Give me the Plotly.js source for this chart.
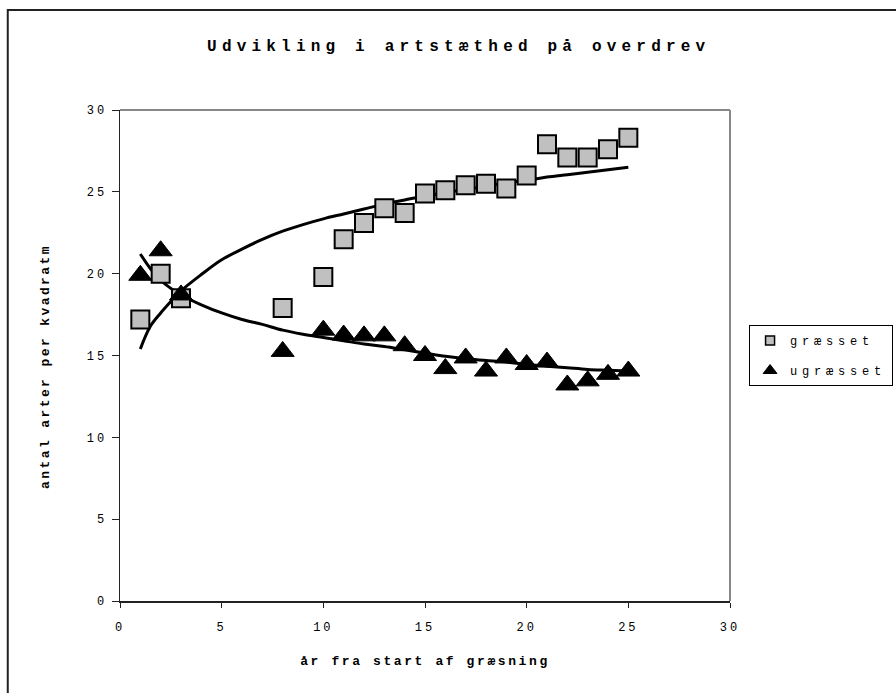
<!DOCTYPE html>
<html>
<head>
<meta charset="utf-8">
<script src="https://cdn.plot.ly/plotly-3.0.1.min.js"></script>
<style>
  html, body { margin: 0; padding: 0; background: #fff; }
  #chart { width: 896px; height: 693px; }
  .gtitle { letter-spacing: 5.2px; }
  .g-ytitle { transform: translate(-8px, 11px); }
  .g-ytitle text { letter-spacing: 2.4px; }
  .g-xtitle text { letter-spacing: 2.6px; }
  .legendtext { letter-spacing: 4.8px; }
  .xtick text, .ytick text { letter-spacing: 3px; }
</style>
</head>
<body>
<div id="chart"></div>
<script>
// Observed data (years since start of grazing)
const yearsGrazed = [1, 2, 3, 8, 10, 11, 12, 13, 14, 15, 16, 17, 18, 19, 20, 21, 22, 23, 24, 25];
const speciesGrazed = [17.2, 20.0, 18.5, 17.9, 19.8, 22.1, 23.1, 24.0, 23.7, 24.9, 25.1, 25.4, 25.5, 25.2, 26.0, 27.9, 27.1, 27.1, 27.6, 28.3];

const yearsUngrazed = [1, 2, 3, 8, 10, 11, 12, 13, 14, 15, 16, 17, 18, 19, 20, 21, 22, 23, 24, 25];
const speciesUngrazed = [19.9, 21.4, 18.7, 15.25, 16.55, 16.25, 16.2, 16.2, 15.6, 15.0, 14.2, 14.85, 14.05, 14.85, 14.45, 14.6, 13.2, 13.45, 13.85, 14.05];

// Trend lines
const trendX = [1, 1.5, 2, 2.5, 3, 4, 5, 6, 7, 8, 9, 10, 11, 12, 13, 14, 15, 16, 17, 18, 19, 20, 21, 22, 23, 24, 25];
const trendGrazed = [15.4, 16.8, 17.6, 18.3, 18.95, 19.95, 20.85, 21.5, 22.1, 22.6, 23.0, 23.35, 23.65, 23.95, 24.25, 24.5, 24.75, 24.95, 25.15, 25.35, 25.55, 25.7, 25.9, 26.05, 26.2, 26.35, 26.5];
const trendUngrazed = [21.2, 20.3, 19.6, 19.1, 18.7, 18.1, 17.6, 17.2, 16.9, 16.55, 16.3, 16.1, 15.9, 15.7, 15.55, 15.35, 15.15, 14.95, 14.8, 14.7, 14.6, 14.45, 14.35, 14.25, 14.15, 14.1, 14.05];

const xTickVals = [0, 5, 10, 15, 20, 25, 30];
const yTickVals = [0, 5, 10, 15, 20, 25, 30];

const titleText = "Udvikling i artstæthed på overdrev";
const xTitleText = "år fra start af græsning";
const yTitleText = "antal arter per kvadratm";
const nameGrazed = "græsset";
const nameUngrazed = "ugræsset";

const mono = "Liberation Mono, Courier New, monospace";

const traces = [
  { x: trendX, y: trendGrazed, type: "scatter", mode: "lines", line: { color: "#000", width: 3, shape: "spline" }, showlegend: false, hoverinfo: "skip" },
  { x: trendX, y: trendUngrazed, type: "scatter", mode: "lines", line: { color: "#000", width: 3, shape: "spline" }, showlegend: false, hoverinfo: "skip" },
  { x: yearsGrazed, y: speciesGrazed, type: "scatter", mode: "markers", name: nameGrazed, legendgroup: "a", showlegend: false,
    marker: { symbol: "square", size: 18, color: "#C0C0C0", line: { color: "#000", width: 2 } } },
  { x: yearsUngrazed, y: speciesUngrazed, type: "scatter", mode: "markers", name: nameUngrazed, legendgroup: "b", showlegend: false,
    marker: { symbol: "triangle-up", size: 20, color: "#000", line: { color: "#000", width: 1 } } },
  // legend entries (smaller symbols like the reference legend)
  { x: [null], y: [null], type: "scatter", mode: "markers", name: nameGrazed, legendgroup: "a",
    marker: { symbol: "square", size: 9, color: "#C0C0C0", line: { color: "#000", width: 1.5 } } },
  { x: [null], y: [null], type: "scatter", mode: "markers", name: nameUngrazed, legendgroup: "b",
    marker: { symbol: "triangle-up", size: 12, color: "#000", line: { color: "#000", width: 1 } } }
];

const layout = {
  width: 896, height: 693,
  margin: { l: 120, r: 166, t: 110, b: 92 },
  paper_bgcolor: "#fff", plot_bgcolor: "#fff",
  showlegend: true,
  title: { text: titleText, x: 0.512, xref: "container", xanchor: "center", y: 0.935, yref: "container", yanchor: "middle",
    font: { family: mono, size: 16, color: "#000", weight: "bold" } },
  xaxis: {
    range: [0, 30], tickvals: xTickVals, ticktext: xTickVals.map(String),
    showgrid: false, zeroline: false, showline: true, linecolor: "#222", linewidth: 1.5,
    ticks: "outside", ticklen: 5, tickwidth: 1, tickcolor: "#222", ticklabelstandoff: 9,
    tickfont: { family: mono, size: 12, color: "#000" },
    title: { text: xTitleText, standoff: 22, font: { family: mono, size: 13, color: "#000", weight: "bold" } }
  },
  yaxis: {
    range: [0, 30], tickvals: yTickVals, ticktext: yTickVals.map(String),
    showgrid: false, zeroline: false, showline: true, linecolor: "#222", linewidth: 1.5,
    ticks: "outside", ticklen: 7, tickwidth: 1, tickcolor: "#222", ticklabelstandoff: 2,
    tickfont: { family: mono, size: 12, color: "#000" },
    title: { text: yTitleText, standoff: 26, font: { family: mono, size: 13, color: "#000", weight: "bold" } }
  },
  legend: {
    xref: "container", yref: "container",
    x: 0.836, y: 0.531, xanchor: "left", yanchor: "top",
    bordercolor: "#000", borderwidth: 1, bgcolor: "#fff",
    font: { family: mono, size: 12, color: "#000" },
    itemwidth: 30,
    traceorder: "grouped", tracegroupgap: 11
  },
  shapes: [
    // gray top and right plot border
    { type: "line", xref: "paper", yref: "paper", x0: 0, x1: 1, y0: 1, y1: 1, line: { color: "#888", width: 2 } },
    { type: "line", xref: "paper", yref: "paper", x0: 1, x1: 1, y0: 0, y1: 1, line: { color: "#888", width: 2 } },
    // outer chart frame
    { type: "rect", xref: "paper", yref: "paper", x0: -0.184, x1: 1.4, y0: -0.25, y1: 1.2037, line: { color: "#222", width: 2 } }
  ]
};

Plotly.newPlot("chart", traces, layout, { displayModeBar: false, staticPlot: true });
</script>
</body>
</html>
